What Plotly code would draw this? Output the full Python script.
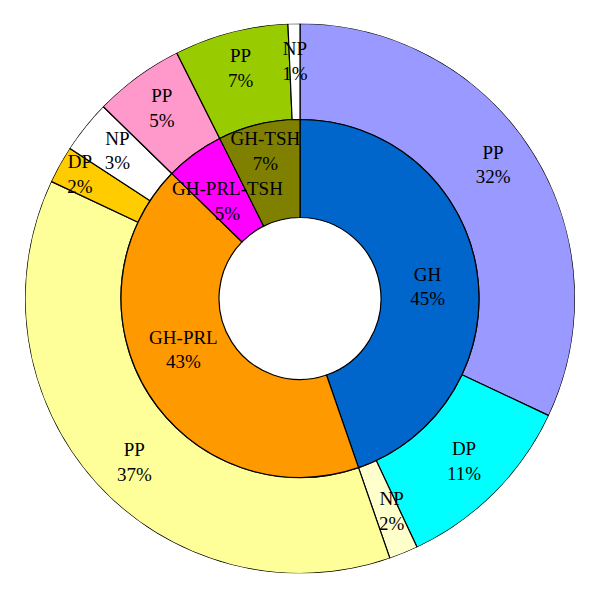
import plotly.graph_objects as go

# ---- data ----
inner_labels = ["GH", "GH-PRL", "GH-PRL-TSH", "GH-TSH"]
inner_share = [44.7, 42.6, 5.3, 7.4]          # angular share (%)
inner_pct_text = ["45%", "43%", "5%", "7%"]   # printed labels
inner_colors = ["#0066CC", "#FF9900", "#FF00FF", "#808000"]

outer_labels = ["PP", "DP", "NP", "PP", "DP", "NP", "PP", "PP", "NP"]
outer_share = [32.0, 11.0, 1.7, 37.3, 2.2, 3.1, 5.3, 6.7, 0.7]
outer_pct_text = ["32%", "11%", "2%", "37%", "2%", "3%", "5%", "7%", "1%"]
outer_colors = ["#9999FF", "#00FFFF", "#FFFFCC", "#FFFF99", "#FFCC00",
                "#FFFFFF", "#FF99CC", "#99CC00", "#FFFFFF"]

# ---- layout / style (radial units = px) ----
R_HOLE, R_MID, R_OUT = 81, 179, 275
CX, CY = 300, 298.5          # desired centre in page pixels
PAGE_OFF = 8                 # default body margin of the html page
W, H = 600, 598
FONT = "Liberation Serif, Times New Roman, serif"
outer_label_r = [234, 232, 233, 234, 252, 234, 234, 236, 236]
outer_label_dtheta = [-2, 0, -1, -3, 0, 0, 0, 0, 0]
inner_label_r = [128, 128, 120, 150]
inner_label_dtheta = [5, 8, -1, 0]


def arcs(shares):
    mids, widths, acc = [], [], 0.0
    for s in shares:
        mids.append((acc + s / 2) * 3.6)
        widths.append(s * 3.6)
        acc += s
    return mids, widths


in_mid, in_w = arcs(inner_share)
out_mid, out_w = arcs(outer_share)

fig = go.Figure()
fig.add_trace(go.Barpolar(
    theta=out_mid, width=out_w, r=[R_OUT - R_MID] * len(out_mid), base=R_MID,
    marker=dict(color=outer_colors, line=dict(color="black", width=1.2)),
    hoverinfo="skip"))
fig.add_trace(go.Barpolar(
    theta=in_mid, width=in_w, r=[R_MID - R_HOLE] * len(in_mid), base=R_HOLE,
    marker=dict(color=inner_colors, line=dict(color="black", width=1.2)),
    hoverinfo="skip"))
fig.add_trace(go.Scatterpolar(
    theta=[t + d for t, d in zip(out_mid, outer_label_dtheta)], r=outer_label_r,
    mode="text",
    text=[f"{l}<br>{p}" for l, p in zip(outer_labels, outer_pct_text)],
    textfont=dict(family=FONT, size=19, color="black"), hoverinfo="skip"))
fig.add_trace(go.Scatterpolar(
    theta=[t + d for t, d in zip(in_mid, inner_label_dtheta)], r=inner_label_r,
    mode="text",
    text=[f"{l}<br>{p}" for l, p in zip(inner_labels, inner_pct_text)],
    textfont=dict(family=FONT, size=19, color="black"), hoverinfo="skip"))

cx = (CX - PAGE_OFF) / W
cy = 1 - (CY - PAGE_OFF) / H
fig.update_layout(
    width=W, height=H, margin=dict(l=0, r=0, t=0, b=0),
    paper_bgcolor="white", showlegend=False,
    polar=dict(
        domain=dict(x=[cx - R_OUT / W, cx + R_OUT / W],
                    y=[cy - R_OUT / H, cy + R_OUT / H]),
        bgcolor="rgba(0,0,0,0)", bargap=0,
        radialaxis=dict(range=[0, R_OUT], visible=False, showgrid=False),
        angularaxis=dict(direction="clockwise", rotation=90, visible=False,
                         showgrid=False),
    ),
)
fig.write_html("out.html")
